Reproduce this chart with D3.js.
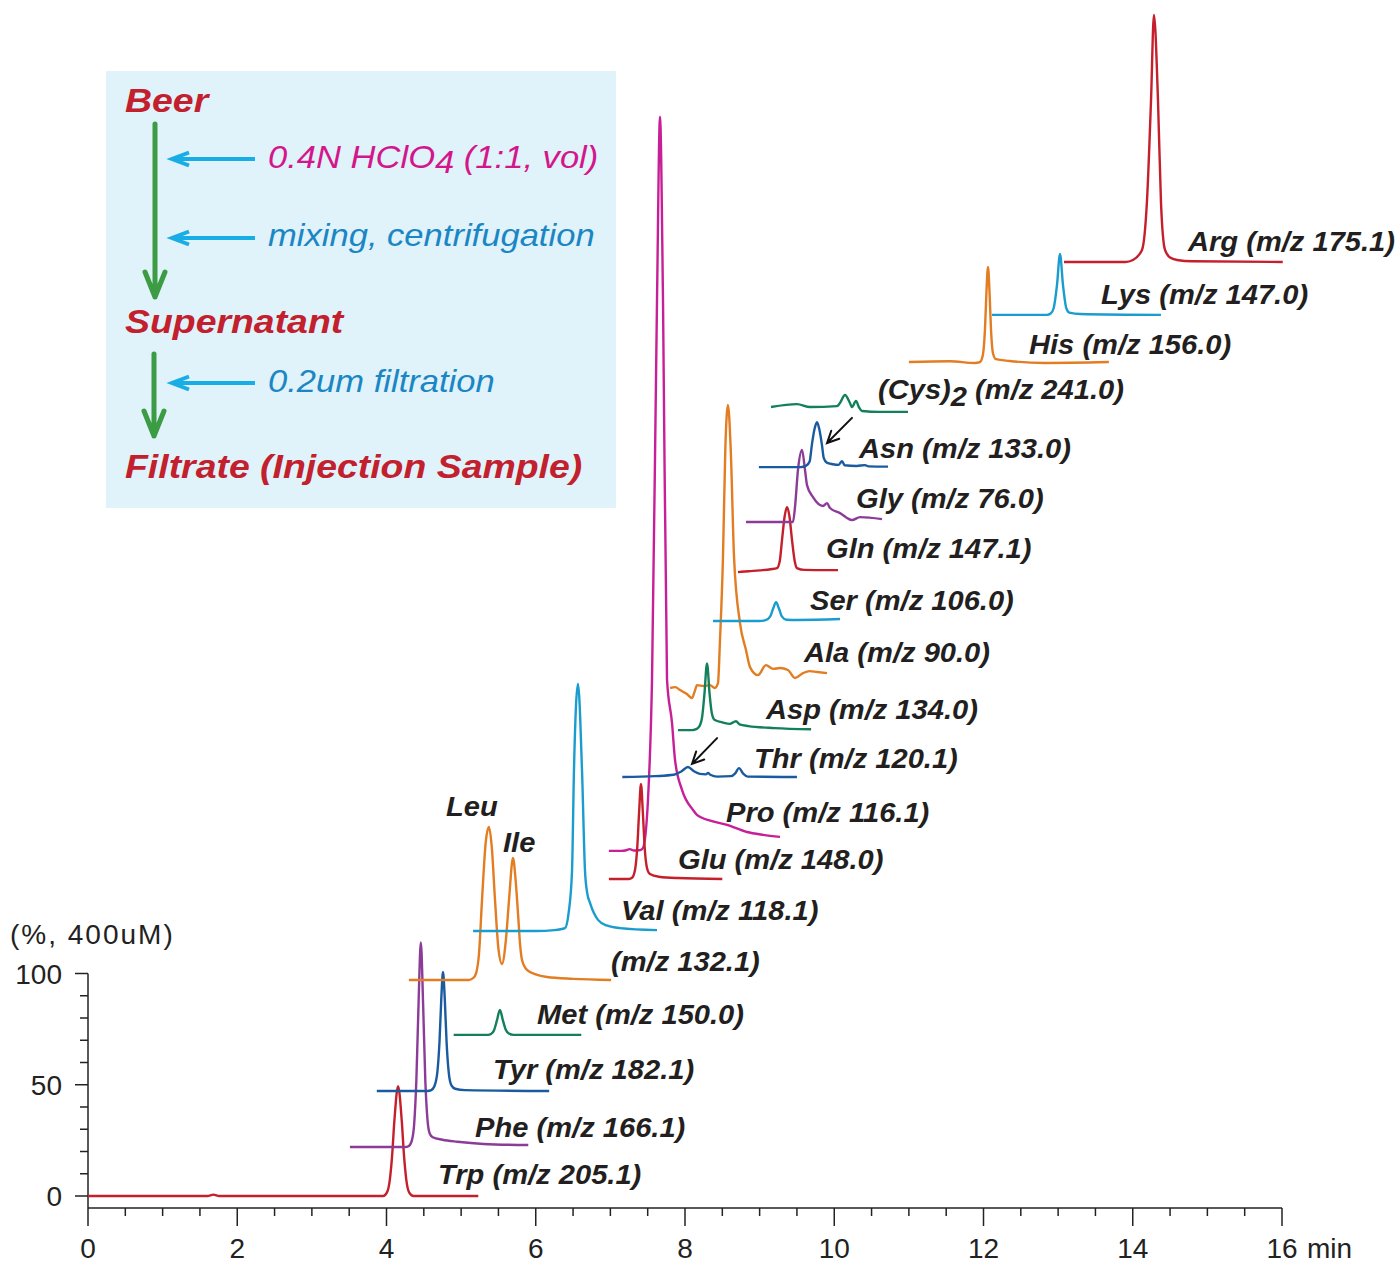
<!DOCTYPE html>
<html>
<head>
<meta charset="utf-8">
<script src="https://cdn.jsdelivr.net/npm/d3@7"></script>
<style>
  html,body{margin:0;padding:0;background:#fff;}
  svg{display:block;font-family:"Liberation Sans",Arial,Helvetica,sans-serif;}
</style>
</head>
<body>
<svg id="chart" width="1398" height="1265"></svg>
<script>
// ---------------- DATA ----------------
const traceNames = ["Trp","Phe","Tyr","Met","Leu/Ile","Val","Glu","Pro","Thr","Asp","Ala","Ser","Gln","Gly","Asn","(Cys)2","His","Lys","Arg"];
const mzValues   = ["205.1","166.1","182.1","150.0","132.1","118.1","148.0","116.1","120.1","134.0","90.0","106.0","147.1","76.0","133.0","241.0","156.0","147.0","175.1"];
// vertical stacking offset of each trace (in %)
const offsets    = [0,22.0,47.2,72.4,97.1,119.1,142.5,155.1,188.3,209.4,228.3,258.4,280.4,302.9,327.6,354.6,374.8,396.0,419.8];

// series: [time (min), signal (% relative to own baseline)]
const trp = [[0,0],[1.60,0],[1.68,0.6],[1.76,0],[3.955,0],[4.005,1.5],[4.045,7.4],[4.075,18],[4.105,33.5],[4.155,49.4],[4.205,33.5],[4.235,18],[4.265,7.4],[4.305,1.5],[4.36,0],[5.23,0]];
const phe = [[3.51,0],[4.25,0],[4.30,0.5],[4.34,3],[4.37,10],[4.40,30],[4.43,65],[4.46,92],[4.49,65],[4.52,30],[4.55,12],[4.58,6],[4.62,4.4],[4.75,3.3],[4.95,2.4],[5.3,1.4],[5.9,0.9]];
const tyr = [[3.87,0],[4.55,0],[4.60,0.4],[4.64,2],[4.68,8],[4.71,22],[4.735,42],[4.757,53.5],[4.78,42],[4.805,22],[4.835,8],[4.87,2.5],[4.92,1.0],[5.05,0.4],[6.18,0]];
const met = [[4.9,0],[5.36,0],[5.40,0.4],[5.44,2],[5.48,6.5],[5.52,11.2],[5.56,6.5],[5.60,2.2],[5.64,0.6],[5.70,0],[6.61,0]];
const leuIle = [[4.30,0],[5.10,0],[5.16,0.8],[5.20,3],[5.24,12],[5.28,36],[5.33,62],[5.373,68.8],[5.41,60],[5.454,36],[5.50,14],[5.548,7.2],[5.60,18],[5.642,36],[5.695,54.8],[5.73,45],[5.762,30],[5.79,16],[5.816,9],[5.883,4.5],[6.0,2.5],[6.15,1.3],[6.5,0.5],[7.01,0]];
const val = [[5.16,0],[6.0,0],[6.25,0.4],[6.392,1.3],[6.44,8],[6.486,27],[6.512,72],[6.566,111],[6.62,72],[6.66,27],[6.69,17],[6.727,12.6],[6.834,5],[6.95,2.5],[7.13,1.3],[7.625,0.4]];
const glu = [[6.98,0],[7.25,0],[7.29,0.5],[7.33,4],[7.36,14],[7.385,30],[7.41,42.7],[7.435,30],[7.46,14],[7.49,5],[7.53,2.2],[7.65,1],[7.9,0.4],[8.5,0]];
const pro = [[6.98,0],[7.15,0],[7.20,0.2],[7.26,0.8],[7.31,0.2],[7.37,0.3],[7.41,0.5],[7.437,1.3],[7.504,23],[7.558,77],[7.625,248],[7.665,330],[7.705,248],[7.759,77],[7.826,57.5],[7.866,41],[7.96,27.4],[8.107,18.4],[8.16,16.2],[8.35,13.5],[8.563,11.7],[8.83,8.5],[9.05,7.2],[9.273,6.3]];
const thr = [[7.16,0],[7.6,0.4],[7.85,1.0],[7.95,2.5],[8.04,4.5],[8.12,2.6],[8.20,1.4],[8.28,1.2],[8.31,1.8],[8.34,1.0],[8.43,0.2],[8.62,0.4],[8.67,1.5],[8.724,4.0],[8.78,1.5],[8.84,0.2],[9.50,0]];
const asp = [[7.906,0],[8.10,0],[8.15,0.4],[8.19,1.5],[8.23,6],[8.26,16],[8.295,30],[8.33,16],[8.36,7.5],[8.40,4.5],[8.50,3.5],[8.60,2.8],[8.683,4.0],[8.73,2.6],[8.85,1.8],[9.2,0.9],[9.69,0.4]];
const ala = [[7.80,0],[7.87,0.4],[7.933,-0.9],[8.02,-2.6],[8.094,-4.5],[8.13,-1.5],[8.161,1.3],[8.25,0.9],[8.335,1.3],[8.40,0],[8.442,2.2],[8.469,21.6],[8.509,58.9],[8.54,107],[8.576,127.2],[8.613,107],[8.657,58.9],[8.737,29.2],[8.817,17.1],[8.871,9.4],[8.978,5.8],[9.085,10.3],[9.18,8.6],[9.273,9.0],[9.38,8.1],[9.474,4.5],[9.581,6.7],[9.67,7.6],[9.769,7.2],[9.903,6.7]];
const ser = [[8.375,0],[9.0,0],[9.08,0.4],[9.14,2],[9.18,5.5],[9.22,8.5],[9.26,5.5],[9.30,2],[9.36,0.6],[9.5,0.5],[10.077,0.9]];
const gln = [[8.71,0],[8.85,0.4],[9.0,0.8],[9.15,1.3],[9.233,1.8],[9.27,5],[9.30,14.4],[9.335,25],[9.367,29.2],[9.40,25],[9.434,14.4],[9.47,5],[9.50,1.8],[9.6,1.0],[9.9,0.9],[10.05,0.9]];
const gly = [[8.817,0],[9.2,0],[9.447,0],[9.474,6.7],[9.514,23.4],[9.568,32.4],[9.608,23.4],[9.635,16.6],[9.715,11.2],[9.849,7.2],[9.903,8.5],[9.943,6.3],[10.077,4.0],[10.238,0.9],[10.345,2.2],[10.64,1.3]];
const asn = [[8.99,0],[9.55,0],[9.62,0.5],[9.67,2.5],[9.70,10],[9.735,17],[9.769,20.2],[9.80,17],[9.835,10],[9.86,4],[9.90,2.0],[9.98,1.3],[10.06,1.0],[10.104,2.7],[10.14,0.8],[10.3,0.5],[10.412,0.9],[10.46,0.3],[10.72,0.2]];
const cys2 = [[9.152,0],[9.50,1.3],[9.675,0],[10.037,0.4],[10.077,1.8],[10.144,5.4],[10.21,1.8],[10.238,0],[10.291,2.7],[10.33,0],[10.372,-1.8],[10.613,-2.2],[10.988,-2.2]];
const his = [[11.0,0],[11.55,0.4],[11.886,-0.4],[11.95,0],[11.99,3],[12.02,15],[12.04,32],[12.06,42.7],[12.08,32],[12.10,15],[12.127,4],[12.167,1.3],[12.35,0.5],[12.82,-0.4],[13.68,0]];
const lys = [[12.114,0],[12.85,0],[12.90,0.6],[12.94,3],[12.985,13.5],[13.025,27.4],[13.065,13.5],[13.11,3],[13.15,1.0],[13.3,0.4],[14.378,0]];
const arg = [[13.079,0],[13.9,0],[14.003,0.9],[14.124,5.4],[14.19,27],[14.245,72.8],[14.284,111],[14.338,72.8],[14.378,27],[14.432,5.4],[14.5,2.0],[14.593,0.9],[14.8,0.3],[16.01,0]];

const series = [trp,phe,tyr,met,leuIle,val,glu,pro,thr,asp,ala,ser,gln,gly,asn,cys2,his,lys,arg];

const xMajorTicks = [0,2,4,6,8,10,12,14,16];
const yMajorTicks = [0,50,100];

// ---------------- STYLE / LAYOUT ----------------
const C = {red:"#c51f2c", purple:"#8c3b98", navy:"#1a5b9f", green:"#13805a", orange:"#e27d22", sky:"#1b9ccf", magenta:"#c71f97"};
const traceColors = [C.red,C.purple,C.navy,C.green,C.orange,C.sky,C.red,C.magenta,C.navy,C.green,C.orange,C.sky,C.red,C.purple,C.navy,C.green,C.orange,C.sky,C.red];
const drawOrder = [0,1,2,3,4,5,7,6,8,10,9,11,12,13,14,15,16,17,18];
const labelPos = [[438,1184],[475,1137],[493,1079],[537,1024],[611,971],[621,920],[678,869],[726,822],[754,768],[766,719],[804,662],[810,610],[826,558],[856,508],[859,458],[878,399],[1029,354],[1101,304],[1188,251]];

const svg = d3.select("#chart");
const x = d3.scaleLinear().domain([0,16]).range([88,1282]);
const y = d3.scaleLinear().domain([0,100]).range([1196,973.5]);

function stretch(sel,k){
  sel.each(function(){
    const L=this.getComputedTextLength();
    this.setAttribute("textLength", (L*k).toFixed(1));
    this.setAttribute("lengthAdjust","spacingAndGlyphs");
  });
}

// ---------------- Legend box ----------------
const lg = svg.append("g");
lg.append("rect").attr("x",106).attr("y",71).attr("width",510).attr("height",437).attr("fill","#e0f2fa");
const redBold = (t,xx,yy)=> lg.append("text").attr("x",xx).attr("y",yy).attr("fill","#c3202e")
  .attr("font-size",34).attr("font-weight","bold").attr("font-style","italic").text(t);
stretch(redBold("Beer",125,112),1.1);
stretch(redBold("Supernatant",125,333),1.1);
stretch(redBold("Filtrate (Injection Sample)",125,478),1.1);

const t1 = lg.append("text").attr("x",268).attr("y",168).attr("fill","#d3168b").attr("font-size",32).attr("font-style","italic");
t1.append("tspan").text("0.4N HClO");
t1.append("tspan").attr("dy",5).text("4");
t1.append("tspan").attr("dy",-5).text(" (1:1, vol)");
stretch(t1,1.08);
stretch(lg.append("text").attr("x",268).attr("y",246).attr("fill","#1a86c4").attr("font-size",32).attr("font-style","italic").text("mixing, centrifugation"),1.08);
stretch(lg.append("text").attr("x",268).attr("y",392).attr("fill","#1a86c4").attr("font-size",32).attr("font-style","italic").text("0.2um filtration"),1.08);

const green="#3c9c44", cyan="#19ade5";
function vArrow(xx,y0,y1){
  lg.append("path").attr("d",`M${xx},${y0}L${xx},${y1}M${xx-10},${y1-25}L${xx},${y1}L${xx+10},${y1-25}`)
    .attr("fill","none").attr("stroke",green).attr("stroke-width",5).attr("stroke-linecap","round").attr("stroke-linejoin","round");
}
function hArrow(yy){
  lg.append("path").attr("d",`M255,${yy}L172,${yy}M189,${yy-6.5}L172,${yy}L189,${yy+6.5}`)
    .attr("fill","none").attr("stroke",cyan).attr("stroke-width",4).attr("stroke-linecap","butt").attr("stroke-linejoin","miter");
}
vArrow(155,124,297); vArrow(154,354,436);
hArrow(159); hArrow(238); hArrow(383);

// ---------------- Axes ----------------
const ax = svg.append("g").attr("stroke","#222").attr("stroke-width",1.5);
const xMinor = d3.range(0,16.01,0.5);
ax.append("line").attr("x1",x(0)).attr("x2",x(16)).attr("y1",1208).attr("y2",1208);
ax.selectAll(".xt").data(xMinor).join("line")
  .attr("x1",d=>x(d)).attr("x2",d=>x(d)).attr("y1",1208)
  .attr("y2",d=>xMajorTicks.includes(d)?1226:1216);
ax.append("line").attr("x1",88).attr("x2",88).attr("y1",y(100)).attr("y2",1208);
const yMinor = d3.range(0,100.1,10);
ax.selectAll(".yt").data(yMinor).join("line")
  .attr("y1",d=>y(d)).attr("y2",d=>y(d)).attr("x2",88)
  .attr("x1",d=>yMajorTicks.includes(d)?75:80);

const axText = svg.append("g").attr("fill","#222").attr("font-size",28);
axText.selectAll(".xl").data(xMajorTicks).join("text")
  .attr("x",d=>x(d)).attr("y",1258).attr("text-anchor","middle").text(d=>d);
axText.append("text").attr("x",x(16)+25).attr("y",1258).text("min");
axText.selectAll(".yl").data(yMajorTicks).join("text")
  .attr("x",62).attr("y",d=>y(d)+10).attr("text-anchor","end").text(d=>d);
axText.append("text").attr("x",10).attr("y",944).attr("letter-spacing",2).text("(%, 400uM)");

// ---------------- Traces ----------------
const line = d3.line().curve(d3.curveMonotoneX);
const tg = svg.append("g").attr("fill","none").attr("stroke-width",2.4).attr("stroke-linejoin","round");
drawOrder.forEach(i=>{
  const off = offsets[i];
  tg.append("path")
    .attr("d", line(series[i].map(p=>[x(p[0]), y(p[1]+off)])))
    .attr("stroke", traceColors[i]);
});

// ---------------- Labels ----------------
const lab = svg.append("g").attr("fill","#231f20").attr("font-size",27).attr("font-weight","bold").attr("font-style","italic");
traceNames.forEach((n,i)=>{
  const t = lab.append("text").attr("x",labelPos[i][0]).attr("y",labelPos[i][1]);
  if(n==="Leu/Ile"){
    t.text(`(m/z ${mzValues[i]})`);
  } else if(n==="(Cys)2"){
    t.append("tspan").text("(Cys)");
    t.append("tspan").attr("dy",7).text("2");
    t.append("tspan").attr("dy",-7).text(` (m/z ${mzValues[i]})`);
  } else {
    t.text(`${n} (m/z ${mzValues[i]})`);
  }
  stretch(t,1.078);
});
stretch(lab.append("text").attr("x",446).attr("y",816).text("Leu"),1.078);
stretch(lab.append("text").attr("x",503).attr("y",852).text("Ile"),1.078);

// ---------------- Annotation arrows (in data coordinates) ----------------
const pointers = [ {trace:8, tip:[8.094,194.2], tail:[8.43,205.8]}, {trace:14, tip:[9.903,338.4], tail:[10.238,349.7]} ];
pointers.forEach(p=>{
  const x0=x(p.tail[0]), y0=y(p.tail[1]), x1=x(p.tip[0]), y1=y(p.tip[1]);
  const ang=Math.atan2(y1-y0,x1-x0), L=13, a=0.45;
  const hx1=x1-L*Math.cos(ang-a), hy1=y1-L*Math.sin(ang-a);
  const hx2=x1-L*Math.cos(ang+a), hy2=y1-L*Math.sin(ang+a);
  svg.append("path").attr("d",`M${x0},${y0}L${x1},${y1}M${hx1},${hy1}L${x1},${y1}L${hx2},${hy2}`)
    .attr("fill","none").attr("stroke","#111").attr("stroke-width",2).attr("stroke-linecap","round");
});
</script>
</body>
</html>
